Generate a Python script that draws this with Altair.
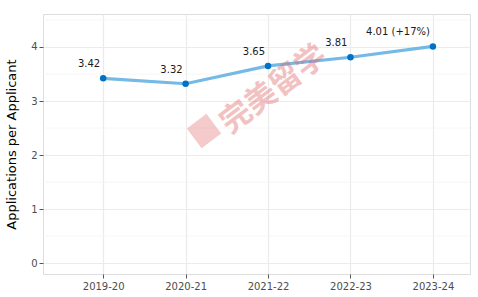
import altair as alt
import pandas as pd

years = ["2019-20", "2020-21", "2021-22", "2022-23", "2023-24"]
values = [3.42, 3.32, 3.65, 3.81, 4.01]
labels = ["3.42", "3.32", "3.65", "3.81", "4.01 (+17%)"]
minor_vals = [0.5, 1.5, 2.5, 3.5, 4.5]

df = pd.DataFrame({"idx": list(range(len(years))), "year": years, "value": values, "label": labels})

label_expr = "[" + ",".join(f"'{y}'" for y in years) + "][datum.value]"

yscale = alt.Scale(domain=[-0.2, 4.61], nice=False, zero=False)
yaxis = alt.Axis(values=[0, 1, 2, 3, 4], format="d", title="Applications per Applicant",
                 titleFontSize=13, titleFontWeight="normal", titleColor="#000000",
                 titleFont="DejaVu Sans", titlePadding=12,
                 grid=True, gridColor="#ebebeb", gridWidth=1.2,
                 tickColor="#555555", tickSize=4, labelColor="#4d4d4d", labelFontSize=10,
                 labelPadding=2, domain=False, labelFont="DejaVu Sans")
xscale = alt.Scale(domain=[-0.73, 4.45], nice=False, zero=False)
xaxis = alt.Axis(values=list(range(len(years))), labelExpr=label_expr, title=None,
                 grid=True, gridColor="#ebebeb", gridWidth=1.2,
                 tickColor="#555555", tickSize=4, labelColor="#4d4d4d", labelFontSize=10,
                 labelPadding=3, domain=False, labelFont="DejaVu Sans")

minor = alt.Chart(pd.DataFrame({"m": minor_vals})).mark_rule(color="#f4f4f4", strokeWidth=0.8).encode(
    y=alt.Y("m:Q", scale=yscale, axis=yaxis))

base = alt.Chart(df)
line = base.mark_line(color="#5DADE2", strokeWidth=3.2, opacity=0.85).encode(
    x=alt.X("idx:Q", scale=xscale, axis=xaxis), y=alt.Y("value:Q", scale=yscale, axis=yaxis))
pts = base.mark_circle(color="#0072C6", size=42, opacity=1).encode(x="idx:Q", y="value:Q")
txt = base.mark_text(align="right", baseline="middle", dx=-3, dy=-14, fontSize=10,
                     font="DejaVu Sans", color="#1a1a1a").encode(x="idx:Q", y="value:Q", text="label:N")

wm_logo = alt.Chart(pd.DataFrame({"t": [1]})).mark_point(
    shape="square", filled=True, size=600, angle=323, color="#e06666", opacity=0.35).encode(
    x=alt.value(161), y=alt.value(117))
wm = alt.Chart(pd.DataFrame({"t": [1]})).mark_text(
    text="完美留学", angle=323, fontSize=31, fontWeight="bold", font="Noto Sans CJK SC",
    color="#e06666", opacity=0.4, align="center", baseline="middle").encode(
    x=alt.value(231), y=alt.value(76))

chart = alt.layer(minor, line, pts, txt, wm_logo, wm).properties(
    width=427, height=260,
    padding={"left": 43, "top": 14, "right": 8, "bottom": 23},
    autosize=alt.AutoSizeParams(type="none"),
).configure_view(stroke="#808080", strokeWidth=1.2).configure(background="white")

chart.save("out.html", embed_options={"renderer": "svg", "actions": False})
